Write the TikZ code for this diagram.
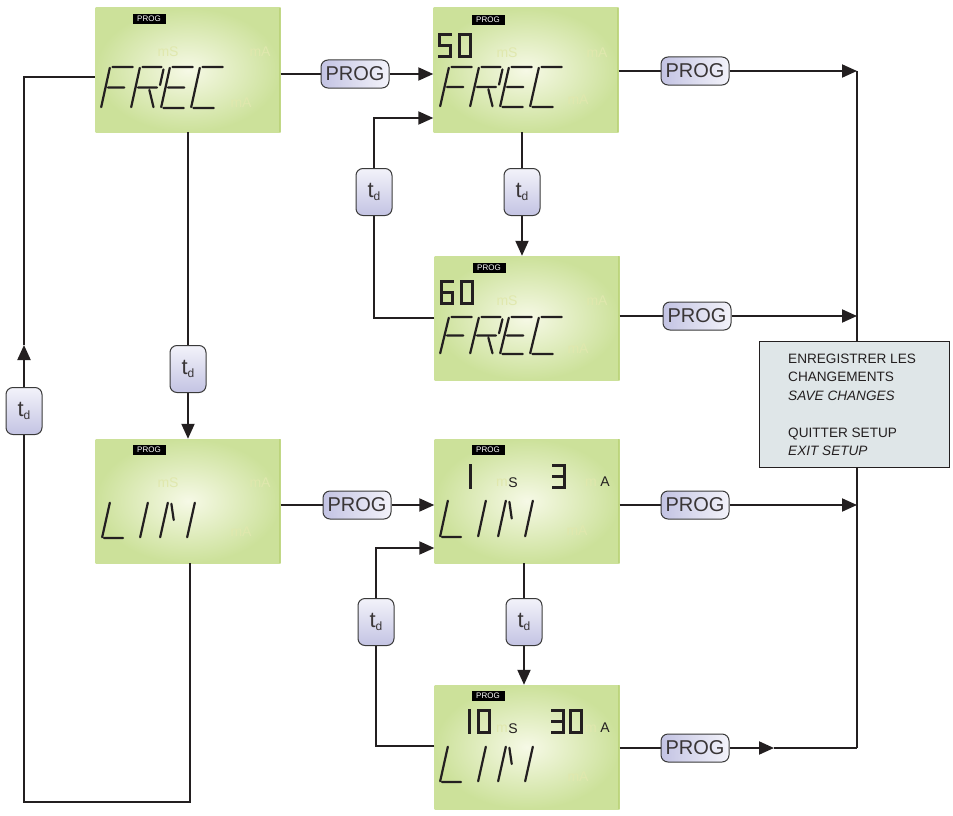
\documentclass[tikz,border=0pt]{standalone}
\usepackage{fontspec}
\setmainfont{Liberation Sans}
\usetikzlibrary{arrows.meta}

\definecolor{ink}{HTML}{231F20}
\definecolor{lcdedge}{HTML}{CCE19A}
\definecolor{lcdcore}{HTML}{F6F9E6}
\definecolor{lcdrim}{HTML}{BCD47C}
\definecolor{ghost}{HTML}{E0E8AE}
\definecolor{lilac}{HTML}{C3C3E3}
\definecolor{lilacpale}{HTML}{F3F3FA}
\definecolor{btnedge}{HTML}{3A3A3A}
\definecolor{boxgrey}{HTML}{DFE6E8}

\tikzset{
  wire/.style={draw=ink, line width=2pt},
  arr/.style={wire, -{Triangle[length=15pt,width=13pt]}},
  panel/.style={shade, inner color=lcdcore, outer color=lcdedge,
    minimum width=185pt, minimum height=124pt, inner sep=0pt,
    path picture={\draw[lcdrim, line width=1.2pt]
      ([xshift=-0.6pt]path picture bounding box.north east) --
      ([xshift=-0.6pt]path picture bounding box.south east);}},
  progtag/.style={fill=black, text=white, minimum width=33pt, minimum height=10pt,
    inner sep=0pt, font=\fontsize{8}{8}\selectfont},
  progbtn/.style={draw=btnedge, line width=1pt, rounded corners=7pt,
    left color=lilac, right color=lilacpale, minimum width=68pt, minimum height=28pt,
    inner sep=0pt, text=ink!90, font=\fontsize{20}{20}\selectfont},
  tdbox/.style={draw=btnedge, line width=1pt, rounded corners=7pt,
    top color=lilacpale, bottom color=lilac, minimum width=36pt, minimum height=47pt,
    inner sep=0pt, text=ink!90},
  ghosttxt/.style={text=ghost, inner sep=0pt, font=\fontsize{14}{14}\selectfont},
  unit/.style={text=ink, inner sep=0pt, font=\fontsize{14}{14}\selectfont},
  infoline/.style={text=ink, inner sep=0pt, anchor=base west, font=\fontsize{13.6}{13.6}\selectfont},
  lcdink/.style={draw=ink, line width=2.2pt, line cap=round, line join=round},
  digitink/.style={draw=ink, line width=3pt, line cap=rect, line join=miter},
}

% slanted segment letters: x0, y0 (bottom left), width, slant, height, strokes
\newcommand\lcdglyph[6]{%
  \begin{scope}[shift={(#1,#2)}, x={(#3pt,0pt)}, y={(#4pt,#5pt)}]
    \draw[lcdink] #6;
  \end{scope}}
% upright seven-segment digits: x, y (top left of the stroke centre lines), strokes
\newcommand\sevseg[3]{%
  \begin{scope}[shift={(#1,#2)}, x={(11pt,0pt)}, y={(0pt,-22pt)}]
    \draw[digitink] #3;
  \end{scope}}

\newcommand\glyphF{(0,0.02)--(0,0.98) (0.1,1)--(0.95,1) (0.1,0.5)--(0.78,0.5)}
\newcommand\glyphR{(0,0.02)--(0,0.98) (0.1,1)--(0.9,1) (1,0.94)--(1,0.56) (0.1,0.5)--(0.9,0.5) (0.6,0.44)--(0.93,0.02)}
\newcommand\glyphE{(0,0.02)--(0,0.98) (0.1,1)--(0.95,1) (0.1,0.5)--(0.78,0.5) (0.1,0)--(0.95,0)}
\newcommand\glyphC{(0,0.02)--(0,0.98) (0.1,1)--(0.95,1) (0.1,0)--(0.95,0)}
\newcommand\glyphL{(0,0.02)--(0,0.98) (0.1,0)--(1,0)}
\newcommand\glyphI{(0,0.02)--(0,0.98)}
\newcommand\glyphN{(0,0.02)--(0,0.98) (0.14,0.95)--(0.36,0.5) (1,0.02)--(1,0.98)}

\newcommand\digitFive{(1,0)--(0,0)--(0,0.5)--(1,0.5)--(1,1)--(0,1)}
\newcommand\digitSix{(1,0)--(0,0)--(0,1)--(1,1)--(1,0.5)--(0,0.5)}
\newcommand\digitZero{(0,0)--(1,0)--(1,1)--(0,1)--cycle}
\newcommand\digitThree{(0,0)--(1,0)--(1,1)--(0,1) (0,0.5)--(1,0.5)}
\newcommand\digitOne{(0,0)--(0,1)}

% word FREC: left x, baseline y, height
\newcommand\wordFREC[3]{%
  \lcdglyph{#1}{#2}{24}{9}{#3}{\glyphF}
  \lcdglyph{#1+30}{#2}{24}{9}{#3}{\glyphR}
  \lcdglyph{#1+60}{#2}{24}{9}{#3}{\glyphE}
  \lcdglyph{#1+90}{#2}{24}{9}{#3}{\glyphC}}
% word LINI: left x, baseline y, height
\newcommand\wordLINI[3]{%
  \lcdglyph{#1}{#2}{21}{8}{#3}{\glyphL}
  \lcdglyph{#1+38}{#2}{21}{8}{#3}{\glyphI}
  \lcdglyph{#1+58}{#2}{27}{8}{#3}{\glyphN}}

\newcommand\tdtext{\fontsize{22}{22}\selectfont t\raisebox{-3.5pt}{\fontsize{12}{12}\selectfont d}}

\begin{document}
\begin{tikzpicture}[x={(1pt,0pt)}, y={(0pt,-1pt)}]
\useasboundingbox (0,0) rectangle (953,816);

% ---- display panels ----
\node[panel] (p1) at (188,70) {};
\node[panel] (p2) at (526,70) {};
\node[panel] (p3) at (527,318) {};
\node[panel] (p4) at (188,501) {};
\node[panel] (p5) at (527,501) {};
\node[panel] (p6) at (527,747) {};

\node[progtag] (g1) at (149,19) {PROG};
\node[progtag] (g2) at (488,20) {PROG};
\node[progtag] (g3) at (489,268) {PROG};
\node[progtag] (g4) at (149,450) {PROG};
\node[progtag] (g5) at (488,450) {PROG};
\node[progtag] (g6) at (488,696) {PROG};

% unlit unit legends
\node[ghosttxt] (m1a) at (168,52) {mS};
\node[ghosttxt] (m1b) at (260,52) {mA};
\node[ghosttxt] (m1c) at (241,103) {mA};
\node[ghosttxt] (m2a) at (507,53) {mS};
\node[ghosttxt] (m2b) at (597,53) {mA};
\node[ghosttxt] (m2c) at (578,100) {mA};
\node[ghosttxt] (m3a) at (507,301) {mS};
\node[ghosttxt] (m3b) at (597,301) {mA};
\node[ghosttxt] (m3c) at (578,349) {mA};
\node[ghosttxt] (m4a) at (168,483) {mS};
\node[ghosttxt] (m4b) at (260,483) {mA};
\node[ghosttxt] (m4c) at (241,532) {mA};
\node[ghosttxt] (m5a) at (502,483) {m};
\node[ghosttxt] (m5b) at (591,483) {m};
\node[ghosttxt] (m5c) at (577,531) {mA};
\node[ghosttxt] (m6a) at (502,729) {m};
\node[ghosttxt] (m6b) at (591,729) {m};
\node[ghosttxt] (m6c) at (578,777) {mA};

% lit unit legends
\node[unit] (s5) at (513,483) {S};
\node[unit] (a5) at (605,482) {A};
\node[unit] (s6) at (513,729) {S};
\node[unit] (a6) at (605,728) {A};

% main words
\wordFREC{101}{108}{41}
\wordFREC{440}{107}{40}
\wordFREC{440}{354}{37}
\wordLINI{102}{538}{36}
\wordLINI{440}{537}{37}
\wordLINI{440}{782}{36}

% numeric fields
\sevseg{439.5}{34.5}{\digitFive}
\sevseg{459}{34.5}{\digitZero}
\sevseg{441.5}{281.5}{\digitSix}
\sevseg{461}{281.5}{\digitZero}
\sevseg{470.5}{465.5}{\digitOne}
\sevseg{553.5}{465.5}{\digitThree}
\sevseg{469.5}{710.5}{\digitOne}
\sevseg{478.5}{710.5}{\digitZero}
\sevseg{552.5}{710.5}{\digitThree}
\sevseg{570.5}{710.5}{\digitZero}

% ---- keys ----
\node[progbtn] (b1) at (355,74) {PROG};
\node[progbtn] (b2) at (695,71) {PROG};
\node[progbtn] (b3) at (697,316) {PROG};
\node[progbtn] (b4) at (357,505) {PROG};
\node[progbtn] (b5) at (695,505) {PROG};
\node[progbtn] (b6) at (695,748) {PROG};

\node[tdbox] (t0) at (24,411) {\tdtext};
\node[tdbox] (t1) at (188,369) {\tdtext};
\node[tdbox] (t2) at (522,192) {\tdtext};
\node[tdbox] (t3) at (374,192) {\tdtext};
\node[tdbox] (t4) at (524,622) {\tdtext};
\node[tdbox] (t5) at (376,622) {\tdtext};

% ---- junction points ----
\coordinate (busT) at (857,71);
\coordinate (bus3) at (857,316);
\coordinate (bus5) at (857,505);
\coordinate (busB) at (857,748);
\coordinate (mid6) at (774,748);
\coordinate (c3lo) at (374,318);
\coordinate (c3hi) at (374,118);
\coordinate (c6lo) at (376,746);
\coordinate (c6hi) at (376,548);
\coordinate (l1) at (190,802);
\coordinate (l2) at (24,802);
\coordinate (l3) at (24,345);
\coordinate (l4) at (24,77);

% ---- connectors ----
\draw[wire] (busT) -- (busB);

\draw[wire] (p1.east |- b1) -- (b1);
\draw[arr] (b1) -- (p2.west |- b1);
\draw[wire] (p2.east |- b2) -- (b2);
\draw[arr] (b2) -- (busT);
\draw[wire] (p3.east |- b3) -- (b3);
\draw[arr] (b3) -- (bus3);
\draw[wire] (p4.east |- b4) -- (b4);
\draw[arr] (b4) -- (p5.west |- b4);
\draw[wire] (p5.east |- b5) -- (b5);
\draw[arr] (b5) -- (bus5);
\draw[wire] (p6.east |- b6) -- (b6);
\draw[arr] (b6) -- (mid6);
\draw[wire] (mid6) -- (busB);

\draw[wire] (p2.south -| t2) -- (t2);
\draw[arr] (t2) -- (p3.north -| t2);
\draw[wire] (p3.west |- c3lo) -- (c3lo) -- (t3);
\draw[arr] (t3) -- (c3hi) -- (p2.west |- c3hi);

\draw[wire] (p1.south -| t1) -- (t1);
\draw[arr] (t1) -- (p4.north -| t1);

\draw[wire] (p5.south -| t4) -- (t4);
\draw[arr] (t4) -- (p6.north -| t4);
\draw[wire] (p6.west |- c6lo) -- (c6lo) -- (t5);
\draw[arr] (t5) -- (c6hi) -- (p5.west |- c6hi);

\draw[wire] (p4.south -| l1) -- (l1) -- (l2) -- (t0);
\draw[arr] (t0) -- (l3);
\draw[wire] (l3) -- (l4) -- (p1.west |- l4);

% ---- save / exit box ----
\node[draw=ink, line width=1pt, fill=boxgrey, minimum width=190pt, minimum height=126pt,
  inner sep=0pt] (info) at (854,404) {};
\node[infoline] (i1) at (788,363) {ENREGISTRER LES};
\node[infoline] (i2) at (788,381.5) {CHANGEMENTS};
\node[infoline] (i3) at (788,400) {\itshape SAVE CHANGES};
\node[infoline] (i4) at (788,437) {QUITTER SETUP};
\node[infoline] (i5) at (788,455.5) {\itshape EXIT SETUP};
\end{tikzpicture}
\end{document}
